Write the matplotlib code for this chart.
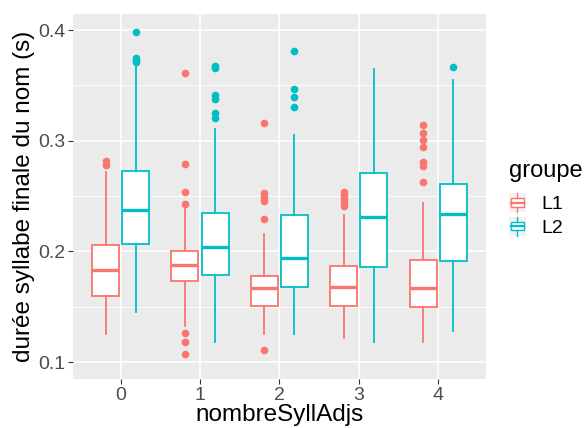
import matplotlib.pyplot as plt
from matplotlib.patches import Patch, Rectangle
from matplotlib.lines import Line2D
from matplotlib.legend_handler import HandlerBase
from matplotlib.ticker import MultipleLocator

plt.rcParams['font.family'] = ['Liberation Sans', 'DejaVu Sans']

categories = [0, 1, 2, 3, 4]
groups = ["L1", "L2"]
colors = {"L1": "#F8766D", "L2": "#00BFC4"}

# boxplot summaries
L1_q1 = [0.160, 0.173, 0.151, 0.151, 0.150]
L1_med = [0.183, 0.188, 0.167, 0.168, 0.167]
L1_q3 = [0.206, 0.200, 0.178, 0.187, 0.192]
L1_lo = [0.125, 0.133, 0.125, 0.122, 0.118]
L1_hi = [0.272, 0.239, 0.216, 0.233, 0.244]
L1_out = [
    [0.282, 0.278],
    [0.361, 0.279, 0.254, 0.243, 0.126, 0.118, 0.107],
    [0.316, 0.253, 0.249, 0.246, 0.229, 0.111],
    [0.254, 0.251, 0.247, 0.244, 0.241],
    [0.314, 0.307, 0.301, 0.294, 0.281, 0.277, 0.263],
]

L2_q1 = [0.207, 0.179, 0.168, 0.186, 0.191]
L2_med = [0.237, 0.204, 0.194, 0.231, 0.234]
L2_q3 = [0.273, 0.235, 0.233, 0.271, 0.261]
L2_lo = [0.145, 0.118, 0.125, 0.118, 0.128]
L2_hi = [0.367, 0.311, 0.305, 0.365, 0.355]
L2_out = [
    [0.398, 0.375, 0.373, 0.371],
    [0.368, 0.366, 0.341, 0.338, 0.325, 0.321],
    [0.381, 0.347, 0.340, 0.331],
    [],
    [0.367],
]

data = {
    "L1": (L1_q1, L1_med, L1_q3, L1_lo, L1_hi, L1_out),
    "L2": (L2_q1, L2_med, L2_q3, L2_lo, L2_hi, L2_out),
}


class BoxKey(HandlerBase):
    def create_artists(self, legend, orig_handle, xdescent, ydescent,
                       width, height, fontsize, trans):
        c = orig_handle.get_edgecolor()
        x0, y0 = -xdescent, -ydescent
        cx = x0 + width / 2
        bg = Rectangle((x0, y0), width, height, facecolor="#F2F2F2",
                       edgecolor="none", transform=trans)
        box = Rectangle((x0 + width * 0.08, y0 + height * 0.28), width * 0.84,
                        height * 0.44, facecolor="white", edgecolor=c,
                        linewidth=1.0, transform=trans)
        med = Line2D([x0 + width * 0.08, x0 + width * 0.92],
                     [y0 + height / 2] * 2, color=c, lw=1.6, transform=trans)
        w1 = Line2D([cx, cx], [y0, y0 + height * 0.28], color=c, lw=1.0,
                    transform=trans)
        w2 = Line2D([cx, cx], [y0 + height * 0.72, y0 + height], color=c,
                    lw=1.0, transform=trans)
        return [bg, box, med, w1, w2]


fig = plt.figure(figsize=(5.86, 4.28), dpi=100)
ax = fig.add_axes([0.1246, 0.1145, 0.7044, 0.8525])
ax.set_facecolor("#EBEBEB")

dodge = 0.19
width = 0.34
for gi, g in enumerate(groups):
    q1, med, q3, lo, hi, out = data[g]
    stats = []
    for i in range(len(categories)):
        stats.append({"q1": q1[i], "med": med[i], "q3": q3[i],
                      "whislo": lo[i], "whishi": hi[i], "fliers": out[i]})
    pos = [c + (dodge if gi else -dodge) for c in categories]
    col = colors[g]
    ax.bxp(stats, positions=pos, widths=width, patch_artist=True,
           showcaps=False, manage_ticks=False, zorder=3,
           boxprops=dict(facecolor="white", edgecolor=col, linewidth=1.3),
           medianprops=dict(color=col, linewidth=2.4),
           whiskerprops=dict(color=col, linewidth=1.3),
           flierprops=dict(marker="o", markerfacecolor=col,
                           markeredgecolor=col, markersize=4.5))

ax.set_xlim(-0.6, 4.6)
ax.set_ylim(0.0847, 0.4145)
ax.set_xticks(categories)
ax.set_xticklabels([str(c) for c in categories])
ax.yaxis.set_major_locator(MultipleLocator(0.1))
ax.yaxis.set_minor_locator(MultipleLocator(0.05))
ax.set_yticklabels(["%.1f" % v for v in ax.get_yticks()])

ax.grid(True, which="major", color="white", linewidth=1.2, zorder=0)
ax.grid(True, which="minor", axis="y", color="white", linewidth=0.6, zorder=0)
ax.set_axisbelow(True)
for s in ax.spines.values():
    s.set_visible(False)
ax.tick_params(axis="both", which="major", colors="#333333", labelcolor="#4D4D4D",
               labelsize=14, length=3.5, width=0.8, pad=2)
ax.tick_params(axis="y", which="minor", length=0)

ax.set_xlabel("nombreSyllAdjs", fontsize=17.5, labelpad=0)
ax.set_ylabel("durée syllabe finale du nom (s)", fontsize=17.5, labelpad=2)

handles = [Patch(edgecolor=colors[g], facecolor="white") for g in groups]
leg = fig.legend(handles, groups, loc="upper left",
                 bbox_to_anchor=(0.869, 0.626), frameon=False,
                 handler_map={Patch: BoxKey()}, title="groupe",
                 fontsize=14, title_fontsize=17, alignment="left",
                 handlelength=0.85, handleheight=1.1, handletextpad=0.8,
                 labelspacing=0.2, borderaxespad=0, borderpad=0)
leg._legend_box.sep = 8

fig.savefig("out.png", dpi=100)
